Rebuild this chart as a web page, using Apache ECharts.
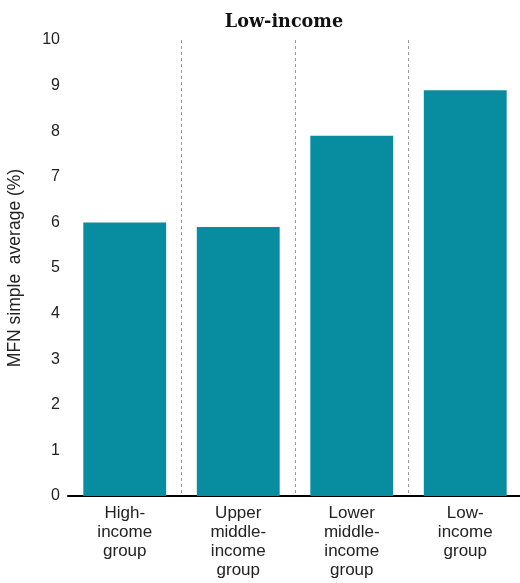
<!DOCTYPE html>
<html>
<head>
<meta charset="utf-8">
<script src="https://cdn.jsdelivr.net/npm/echarts@6/dist/echarts.min.js"></script>
<style>html,body{margin:0;padding:0;background:#fff}#c{width:520px;height:583px}</style>
</head>
<body>
<div id="c"></div>
<script>
const categories = ["High-\nincome\ngroup", "Upper\nmiddle-\nincome\ngroup", "Lower\nmiddle-\nincome\ngroup", "Low-\nincome\ngroup"];
const values = [6.0, 5.9, 7.9, 8.9];
const yTicks = [0, 1, 2, 3, 4, 5, 6, 7, 8, 9, 10];
const titleText = "Low-income";
const yName = "MFN simple  average (%)";

const chart = echarts.init(document.getElementById('c'));
chart.setOption({
  animation: false,
  title: {
    text: titleText, left: 279, top: 8, textAlign: 'center',
    textStyle: { fontFamily: 'DejaVu Serif', fontWeight: 'bold', fontSize: 17.6, color: '#111' }
  },
  grid: { left: 68, top: 40, width: 454, bottom: 87, containLabel: false, outerBoundsMode: 'none' },
  xAxis: {
    type: 'category', data: categories,
    axisLine: { lineStyle: { color: '#000', width: 2 } },
    axisTick: { show: false },
    axisLabel: { fontFamily: 'Liberation Sans', fontSize: 17, color: '#222', lineHeight: 19, margin: 8, interval: 0 },
    splitLine: { show: true, showMinLine: false, showMaxLine: false, lineStyle: { color: '#999', type: [3, 3], width: 1 } }
  },
  yAxis: {
    type: 'value', min: yTicks[0], max: yTicks[yTicks.length - 1], interval: 1,
    name: yName, nameLocation: 'middle', nameGap: 44, nameRotate: 90,
    nameTextStyle: { fontFamily: 'Liberation Sans', fontSize: 17.5, color: '#222' },
    axisLine: { show: false }, axisTick: { show: false },
    axisLabel: { fontFamily: 'Liberation Sans', fontSize: 16, color: '#222', margin: 8, padding: [5, 0, 0, 0] },
    splitLine: { show: false }
  },
  series: [{
    type: 'bar', data: values, barCategoryGap: '27%',
    itemStyle: { color: '#088ca0' }
  }]
});
</script>
</body>
</html>
